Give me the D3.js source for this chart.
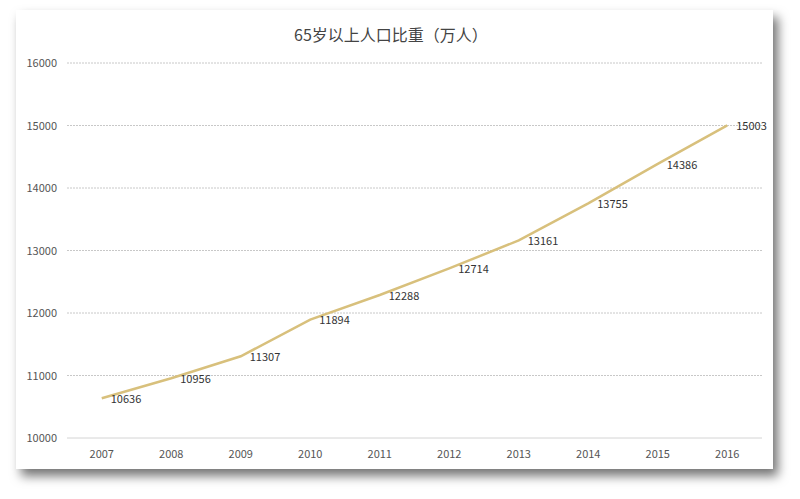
<!DOCTYPE html>
<html><head><meta charset="utf-8">
<script src="https://cdn.jsdelivr.net/npm/d3@7"></script>
<style>body{margin:0;background:#fff;}svg{display:block;}</style>
</head><body>
<svg id="c" width="800" height="499"></svg>
<script>
const years = ["2007","2008","2009","2010","2011","2012","2013","2014","2015","2016"];
const population = [10636,10956,11307,11894,12288,12714,13161,13755,14386,15003];
const yTicks = [10000,11000,12000,13000,14000,15000,16000];
const title = "65岁以上人口比重（万人）";

(function(){
const svg = d3.select("#c");
const font = "'Noto Sans CJK SC','Noto Sans',sans-serif";
const defs = svg.append("defs");
const f = defs.append("filter").attr("id","sh").attr("x","-10%").attr("y","-10%").attr("width","125%").attr("height","130%");
f.append("feDropShadow").attr("dx",5).attr("dy",7).attr("stdDeviation",5.5).attr("flood-color","#000").attr("flood-opacity",0.55);
svg.append("rect").attr("x",16).attr("y",10).attr("width",757).attr("height",459).attr("fill","#fff").attr("filter","url(#sh)");

const pl=67, pr=762, pt=63, pb=438;
const x = d3.scaleBand().domain(years).range([pl,pr]);
const y = d3.scaleLinear().domain([10000,16000]).range([pb,pt]);

svg.append("text").attr("x",391).attr("y",41).attr("text-anchor","middle")
  .attr("font-family",font).attr("font-size",16).attr("fill","#444").text(title);

const g = svg.append("g");
yTicks.forEach(t=>{
  g.append("line").attr("x1",pl).attr("x2",pr).attr("y1",y(t)).attr("y2",y(t))
    .attr("stroke", t===10000?"#d4d4d4":"#c8c8c8").attr("stroke-width",1)
    .attr("stroke-dasharray", t===10000?null:"2,1");
});
const yAx = svg.append("g").attr("transform",`translate(${pl-10},0)`)
  .call(d3.axisLeft(y).tickValues(yTicks).tickSize(0).tickPadding(0).tickFormat(d3.format("d")));
yAx.select(".domain").remove();
yAx.selectAll("text").attr("font-family",font).attr("font-size",11).attr("fill","#555");

const xAx = svg.append("g").attr("transform",`translate(0,${pb+16})`)
  .call(d3.axisBottom(x).tickSize(0).tickPadding(0));
xAx.select(".domain").remove();
xAx.selectAll("text").attr("font-family",font).attr("font-size",11).attr("fill","#555").attr("dy","0.35em");

const cx = d=>x(d)+x.bandwidth()/2;
const line = d3.line().x((d,i)=>cx(years[i])).y(d=>y(d));
svg.append("path").datum(population).attr("d",line).attr("fill","none")
  .attr("stroke","#d8c07c").attr("stroke-width",2.5);

svg.selectAll(".lbl").data(population).enter().append("text")
  .attr("x",(d,i)=>cx(years[i])+9).attr("y",d=>y(d)+1).attr("dy","0.35em")
  .attr("font-family",font).attr("font-size",11).attr("fill","#333").text(d=>d);
})();
</script>
</body></html>
